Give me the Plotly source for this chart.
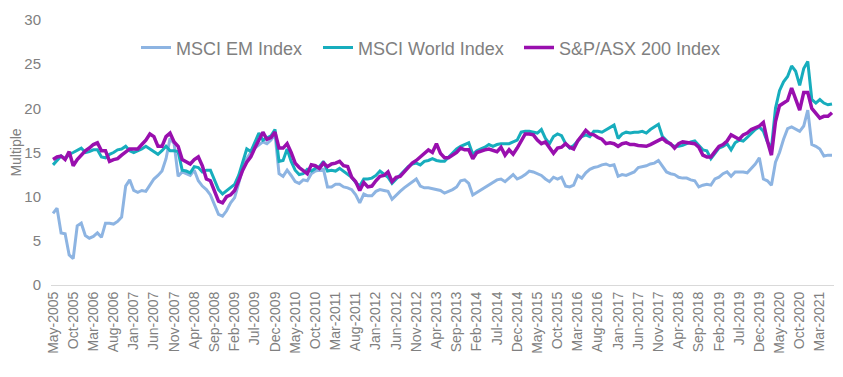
import plotly.graph_objects as go
import pandas as pd

msci_em = [8.1, 8.7, 5.9, 5.8, 3.4, 3.0, 6.7, 7.0, 5.6, 5.3,
           5.5, 5.9, 5.4, 7.0, 7.0, 6.9, 7.2, 7.7, 11.2, 11.9,
           10.7, 10.5, 10.7, 10.6, 11.3, 12.0, 12.4, 12.9, 14.3, 16.6,
           16.0, 12.3, 12.8, 12.6, 12.4, 13.0, 11.8, 11.2, 10.8, 10.2,
           9.2, 8.0, 7.8, 8.4, 9.3, 9.9, 11.5, 13.2, 14.3, 15.0,
           15.5, 15.9, 16.2, 16.0, 16.4, 17.1, 12.6, 12.3, 13.0, 12.4,
           11.7, 11.5, 11.9, 11.8, 12.6, 12.9, 13.0, 13.1, 11.1, 11.1,
           11.4, 11.4, 11.1, 11.0, 10.8, 10.2, 9.3, 10.3, 10.1, 10.1,
           10.6, 10.8, 10.7, 10.6, 9.7, 10.2, 10.6, 11.0, 11.3, 11.6,
           12.0, 11.2, 11.0, 11.0, 10.9, 10.8, 10.7, 10.4, 10.6, 10.8,
           11.1, 11.8, 11.9, 11.5, 10.2, 10.5, 10.8, 11.0, 11.3, 11.6,
           11.9, 12.0, 11.7, 12.1, 12.5, 12.0, 12.2, 12.5, 12.9, 12.8,
           12.6, 12.4, 12.0, 11.7, 12.2, 12.0, 12.2, 11.2, 11.1, 11.3,
           12.4, 12.1, 12.7, 13.1, 13.3, 13.4, 13.6, 13.7, 13.5, 13.6,
           12.3, 12.5, 12.4, 12.6, 12.8, 13.3, 13.4, 13.5, 13.7, 13.8,
           14.1, 13.4, 12.8, 12.6, 12.5, 12.2, 12.1, 12.1, 11.9, 11.8,
           11.1, 11.3, 11.4, 11.3, 12.0, 12.2, 12.6, 12.8, 12.3, 12.8,
           12.8, 12.8, 12.7, 13.2, 13.7, 14.4, 12.0, 11.8, 11.3, 13.9,
           15.0, 16.5, 17.7, 17.9, 17.6, 17.4, 18.0, 19.8, 15.9, 15.7,
           15.4, 14.6, 14.7, 14.7]

msci_world = [13.6, 14.1, 14.6, 14.3, 14.8, 15.0, 15.3, 15.5, 15.0, 15.1,
              15.3, 15.3, 14.5, 14.4, 14.8, 15.0, 15.3, 15.4, 15.7, 15.2,
              15.0, 15.2, 15.4, 15.7, 15.4, 15.0, 14.8, 15.2, 15.7, 15.2,
              15.2, 15.1, 13.0, 12.9, 12.7, 13.4, 13.3, 12.8, 13.0, 13.0,
              11.9, 10.8, 10.3, 10.7, 11.1, 11.4, 12.4, 14.0, 15.4, 15.1,
              16.2, 17.2, 16.4, 16.7, 16.9, 17.6, 14.0, 14.1, 15.4, 14.0,
              13.0, 12.5, 12.6, 13.1, 12.9, 13.2, 13.4, 14.0, 12.9, 13.0,
              12.9, 13.2, 12.9, 12.6, 12.2, 11.6, 11.2, 12.0, 12.0, 12.1,
              12.4, 12.9, 12.6, 12.2, 11.5, 12.0, 12.5, 12.9, 13.4, 13.7,
              13.8, 13.6, 14.0, 14.1, 14.3, 14.1, 14.0, 14.0, 14.5, 15.0,
              15.4, 15.7, 15.9, 16.1, 14.8, 15.2, 15.4, 15.6, 15.9, 15.7,
              15.9, 16.0, 16.0, 16.0, 16.2, 16.4, 17.3, 17.4, 17.4, 17.3,
              17.2, 17.6, 16.6, 16.0, 16.8, 17.1, 16.9, 16.0, 15.5, 15.8,
              16.3, 16.8, 17.0, 16.8, 17.4, 17.4, 17.3, 17.6, 17.9, 18.1,
              16.6, 17.1, 17.3, 17.2, 17.3, 17.3, 17.4, 17.2, 17.6, 17.9,
              18.2, 16.8, 16.3, 15.9, 15.7, 15.7, 15.8, 16.0, 16.2, 16.3,
              15.8, 15.3, 15.2, 14.3, 14.9, 15.5, 15.7, 16.0, 15.3, 16.1,
              16.4, 16.3, 16.7, 17.2, 17.6, 17.9, 17.4, 16.2, 15.5, 20.0,
              22.0, 23.0, 23.6, 24.8, 24.2, 22.6, 24.5, 25.3, 21.0, 20.6,
              21.0, 20.6, 20.4, 20.5]

sp_asx200 = [14.2, 14.5, 14.6, 14.2, 15.1, 13.5, 14.2, 14.7, 15.2, 15.5,
             15.9, 16.1, 15.2, 15.2, 14.0, 14.2, 14.3, 14.7, 15.0, 15.4,
             15.4, 15.4, 15.9, 16.4, 17.1, 16.8, 15.7, 15.7, 16.8, 17.2,
             16.2, 15.7, 14.2, 14.0, 13.7, 14.2, 14.5, 13.5, 12.0, 11.8,
             10.6, 9.5, 9.3, 10.0, 10.2, 10.7, 11.8, 13.0, 13.9, 14.5,
             15.5, 16.5, 17.3, 16.5, 16.7, 17.3, 15.5, 15.5, 16.0, 15.0,
             13.8, 13.3, 13.0, 12.6, 13.6, 13.5, 13.2, 13.8, 13.4, 13.7,
             13.8, 14.0, 13.5, 13.4, 12.2, 11.7, 10.7, 11.6, 11.1, 11.2,
             11.8, 12.3, 12.4, 12.8, 11.7, 12.2, 12.3, 12.8, 13.4, 13.8,
             14.1, 14.5, 15.0, 15.3, 15.0, 16.0, 14.9, 14.4, 14.4, 14.7,
             15.0, 15.5, 15.3, 15.3, 14.3, 15.0, 15.2, 15.3, 15.4, 15.3,
             15.1, 15.6, 14.7, 15.3, 14.8, 15.5, 16.4, 17.1, 17.1, 17.0,
             16.4, 16.0, 16.2, 15.5, 14.9, 15.5, 15.6, 16.0, 15.6, 15.4,
             16.3, 16.9, 17.5, 17.1, 17.0, 16.7, 16.5, 16.0, 16.1, 16.0,
             15.7, 16.0, 16.1, 15.9, 15.9, 15.8, 15.7, 15.7, 15.9, 16.1,
             16.4, 16.6, 16.2, 16.0, 15.5, 16.0, 16.2, 16.1, 16.1, 16.0,
             15.6, 14.7, 14.5, 14.5, 15.1, 15.7, 15.9, 16.3, 17.0, 16.7,
             16.5, 17.0, 17.2, 17.6, 17.8, 18.0, 18.4, 16.3, 14.7, 18.5,
             20.3, 20.6, 20.9, 22.3, 20.9, 19.8, 21.8, 21.8, 20.0, 19.4,
             18.9, 19.1, 19.1, 19.5]

months = pd.date_range("2005-05-01", periods=len(msci_em), freq="MS").strftime("%b-%Y").tolist()
tick_labels = months[::5]

series_names = ["MSCI EM Index", "MSCI World Index", "S&P/ASX 200 Index"]
series_colors = ["#8DB4E2", "#17ADBD", "#990FAE"]
series_widths = [3, 3, 3.5]
legend_ids = ["legend", "legend2", "legend3"]

fig = go.Figure()
for name, vals, col, w, lg in zip(series_names, [msci_em, msci_world, sp_asx200],
                                  series_colors, series_widths, legend_ids):
    fig.add_trace(go.Scatter(x=months, y=vals, mode="lines", name=name,
                             line=dict(color=col, width=w), legend=lg))

font_fam = "Liberation Sans, Arial, sans-serif"
# plot domain: x 51..834 px, y 20..285 px in the page (body has 8px margin)
W, H = 835, 369
ml, mr, mt, mb = 43, 9, 12, 92
plot_w = W - ml - mr


def lx(px_text_start):
    # legend box left edge so that the label text starts at the given page px
    return (px_text_start - 40 - 51) / plot_w


leg_common = dict(orientation="h", xanchor="left", y=0.895, yanchor="middle",
                  font=dict(size=18, color="#808080"), bgcolor="rgba(0,0,0,0)")

fig.update_layout(
    width=W, height=H,
    margin=dict(l=ml, r=mr, t=mt, b=mb, autoexpand=False),
    paper_bgcolor="white", plot_bgcolor="white",
    font=dict(family=font_fam, color="#808080"),
    legend=dict(x=lx(176), **leg_common),
    legend2=dict(x=lx(358), **leg_common),
    legend3=dict(x=lx(559), **leg_common),
    showlegend=True,
)
fig.update_xaxes(type="category", range=[-0.5, len(months) - 0.5],
                 tickmode="array", tickvals=tick_labels, ticktext=tick_labels,
                 tickangle=-90, tickfont=dict(size=14, color="#808080"),
                 showline=True, linecolor="#D9D9D9", linewidth=1,
                 showgrid=False, zeroline=False, ticks="", automargin=False)
fig.update_yaxes(range=[0, 30], dtick=5, tickfont=dict(size=15, color="#808080"),
                 showgrid=False, zeroline=False, showline=False, ticks="",
                 ticklabelstandoff=9, automargin=False,
                 title=dict(text="Multiple", font=dict(size=14, color="#808080"), standoff=8))

fig.write_html("out.html")
